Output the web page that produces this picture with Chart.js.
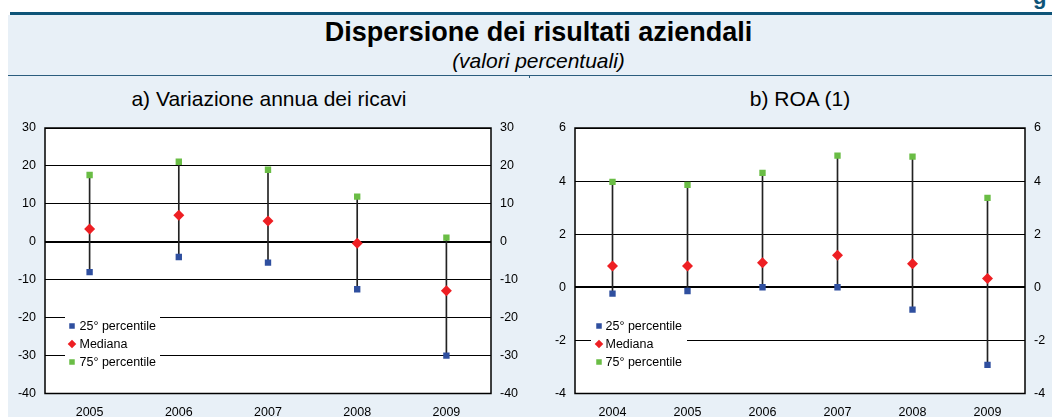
<!DOCTYPE html>
<html>
<head>
<meta charset="utf-8">
<script src="https://cdn.jsdelivr.net/npm/chart.js@4/dist/chart.umd.min.js"></script>
<style>
  html, body { margin: 0; padding: 0; }
  body { width: 1052px; height: 417px; overflow: hidden; position: relative; background: #ffffff;
         font-family: 'Liberation Sans', Arial, sans-serif; color: #000; }
  .abs { position: absolute; white-space: nowrap; }
  #bg { left: 8px; top: 15px; right: 0; bottom: 0; background: #e8f0f7; }
  #topline { left: 10px; top: 12px; right: 0; height: 3px; background: #0e5478; }
  #divline { left: 8px; top: 75px; right: 0; height: 1px; background: #2b5d7e; }
  #divtick { left: 529px; top: 75px; width: 1px; height: 3px; background: #2b5d7e; }
  #g { left: 1033px; top: -14px; font-size: 22px; line-height: 22px; font-weight: bold; color: #0e5478; }
  #title { left: 0; width: 1077px; top: 19px; text-align: center; font-size: 27px; line-height: 27px; font-weight: bold; }
  #subtitle { left: 0; width: 1077px; top: 50px; text-align: center; font-size: 21px; line-height: 21px; font-style: italic; }
  .ptitle { top: 88px; text-align: center; font-size: 21px; line-height: 21px; }
  #ta { left: 0; width: 538px; }
  #tb { left: 600px; width: 400px; }
  #wa { left: 0; top: 110px; width: 528px; height: 307px; }
  #wb { left: 528px; top: 110px; width: 524px; height: 307px; }
</style>
</head>
<body>
<div class="abs" id="bg"></div>
<div class="abs" id="topline"></div>
<div class="abs" id="g">g</div>
<div class="abs" id="title">Dispersione dei risultati aziendali</div>
<div class="abs" id="subtitle">(valori percentuali)</div>
<div class="abs" id="divline"></div>
<div class="abs" id="divtick"></div>
<div class="abs ptitle" id="ta">a) Variazione annua dei ricavi</div>
<div class="abs ptitle" id="tb">b) ROA (1)</div>
<div class="abs" id="wa"><canvas id="ca" width="528" height="307"></canvas></div>
<div class="abs" id="wb"><canvas id="cb" width="524" height="307"></canvas></div>
<script>
// ---- Data: panel a) Variazione annua dei ricavi ----
const yearsA = ['2005', '2006', '2007', '2008', '2009'];
const p25A = [-8.0, -4.0, -5.5, -12.5, -30.0];
const medA = [3.4, 7.0, 5.5, -0.4, -12.9];
const p75A = [17.6, 21.1, 19.0, 11.9, 1.1];
const ticksA = [-40, -30, -20, -10, 0, 10, 20, 30];

// ---- Data: panel b) ROA (1) ----
const yearsB = ['2004', '2005', '2006', '2007', '2008', '2009'];
const p25B = [-0.24, -0.14, 0.0, 0.0, -0.84, -2.92];
const medB = [0.80, 0.80, 0.92, 1.21, 0.89, 0.33];
const p75B = [3.97, 3.86, 4.31, 4.96, 4.92, 3.37];
const ticksB = [-4, -2, 0, 2, 4, 6];

const seriesNames = ['25° percentile', 'Mediana', '75° percentile'];

Chart.defaults.font.family = "'Liberation Sans', Arial, sans-serif";
Chart.defaults.font.size = 12.5;
Chart.defaults.color = '#000';

const COL25 = '#2f4f9f', COLMED = '#ee1f23', COL75 = '#6abd45';

const framePlugin = {
  id: 'frame',
  beforeDraw(chart) {
    const a = chart.chartArea, c = chart.ctx;
    c.save(); c.fillStyle = '#ffffff';
    c.fillRect(a.left, a.top, a.right - a.left, a.bottom - a.top);
    c.restore();
  },
  afterDraw(chart) {
    const a = chart.chartArea, c = chart.ctx;
    c.save(); c.strokeStyle = '#000'; c.lineWidth = 1.5;
    c.strokeRect(a.left, a.top, a.right - a.left, a.bottom - a.top);
    c.restore();
  }
};

const boxLegend = {
  id: 'boxLegend',
  afterDatasetsDraw(chart, args, opts) {
    const a = chart.chartArea, c = chart.ctx;
    const x0 = a.left + opts.dx, y0 = a.top + opts.dy;
    c.save();
    c.fillStyle = '#ffffff';
    c.fillRect(x0, y0, opts.w, opts.h);
    c.font = "12.5px 'Liberation Sans', Arial, sans-serif";
    c.textBaseline = 'middle';
    c.textAlign = 'left';
    [1, 2, 3].forEach((di, k) => {
      const ds = chart.data.datasets[di];
      const cy = y0 + opts.first + k * opts.row;
      const cx = x0 + opts.mx;
      c.fillStyle = ds.pointBackgroundColor;
      if (ds.pointStyle === 'rectRot') {
        const r = ds.pointRadius * 0.78;
        c.beginPath();
        c.moveTo(cx, cy - r); c.lineTo(cx + r, cy); c.lineTo(cx, cy + r); c.lineTo(cx - r, cy);
        c.closePath(); c.fill();
      } else {
        const s = 5.5;
        c.fillRect(cx - s / 2, cy - s / 2, s, s);
      }
      c.fillStyle = '#000';
      c.fillText(ds.label, x0 + opts.tx, cy + 0.5);
    });
    c.restore();
  }
};

function makeChart(id, labels, p25, med, p75, ticks, geom) {
  const lo = ticks[0], hi = ticks[ticks.length - 1];
  const pointDs = (label, data, color, style, r) => ({
    type: 'line', label, data, showLine: false,
    pointStyle: style, pointRadius: r, pointHoverRadius: r,
    pointBackgroundColor: color, pointBorderColor: color, pointBorderWidth: 0,
    borderColor: color, backgroundColor: color, yAxisID: 'y', order: 1
  });
  return new Chart(document.getElementById(id), {
    type: 'bar',
    data: {
      labels,
      datasets: [
        { type: 'bar', label: 'range', data: p25.map((v, i) => [v, p75[i]]),
          backgroundColor: '#222222', borderWidth: 0, barThickness: 1, yAxisID: 'y', order: 10 },
        pointDs(seriesNames[0], p25, COL25, 'rect', 4.5),
        pointDs(seriesNames[1], med, COLMED, 'rectRot', 5.5),
        pointDs(seriesNames[2], p75, COL75, 'rect', 4.5)
      ]
    },
    options: {
      responsive: false, animation: false, devicePixelRatio: 1,
      layout: { padding: { top: geom.top, left: 0, right: 0, bottom: 0 } },
      plugins: {
        legend: { display: false }, tooltip: { enabled: false },
        boxLegend: geom.legend
      },
      scales: {
        x: {
          offset: true,
          grid: { display: false, drawTicks: false },
          border: { display: false },
          ticks: { padding: 11.5, maxRotation: 0, autoSkip: false, font: { size: 12.5 } },
          afterFit: s => { s.height = geom.xh; }
        },
        y: {
          position: 'left', min: lo, max: hi,
          afterBuildTicks: s => { s.ticks = ticks.map(v => ({ value: v })); },
          grid: { color: '#000', lineWidth: c => (c.tick && c.tick.value === 0 ? 2 : 1), drawTicks: false },
          border: { display: false },
          ticks: { padding: 9, font: { size: 12.5 } },
          afterFit: s => { s.width = geom.yl; }
        },
        y2: {
          position: 'right', min: lo, max: hi,
          afterBuildTicks: s => { s.ticks = ticks.map(v => ({ value: v })); },
          grid: { display: false, drawTicks: false },
          border: { display: false },
          ticks: { padding: 9, font: { size: 12.5 } },
          afterFit: s => { s.width = geom.yr; }
        }
      }
    },
    plugins: [framePlugin, boxLegend]
  });
}

makeChart('ca', yearsA, p25A, medA, p75A, ticksA,
  { top: 18, xh: 23.5, yl: 45, yr: 37,
    legend: { dx: 20, dy: 189, w: 95, h: 54, first: 9, row: 18, mx: 7, tx: 14.5 } });
makeChart('cb', yearsB, p25B, medB, p75B, ticksB,
  { top: 18, xh: 23.5, yl: 47, yr: 27,
    legend: { dx: 16, dy: 189, w: 96, h: 54, first: 9, row: 18, mx: 8, tx: 14.5 } });
</script>
</body>
</html>
